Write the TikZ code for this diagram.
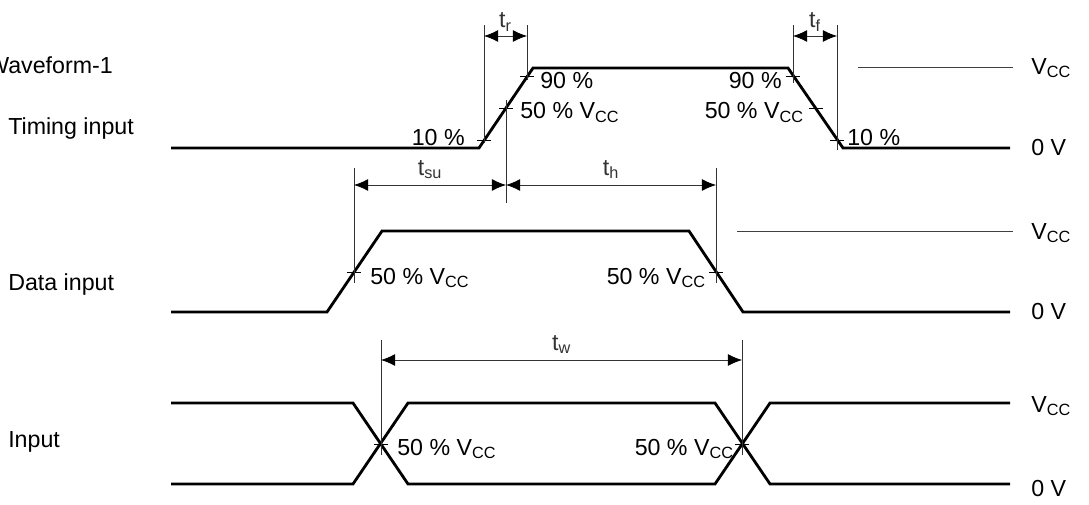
\documentclass[tikz,border=0pt]{standalone}
\usepackage{fontspec}
\setmainfont{Liberation Sans}
\usetikzlibrary{arrows.meta,positioning}
\newcommand{\vcc}{V\textsubscript{CC}}
\begin{document}
\begin{tikzpicture}[x=0.025cm, y=-0.025cm, font=\fontsize{16.5}{19}\selectfont,
  wave/.style={line width=2pt, line join=miter},
  dimline/.style={line width=0.6pt, black!80},
  dimarrow/.style={line width=0.6pt, black!80, {Latex[length=10pt,width=8.5pt,color=black]}-{Latex[length=10pt,width=8.5pt,color=black]}},
  tickmark/.style={line width=0.7pt},
  reflevel/.style={line width=0.7pt, black!75},
  lbl/.style={inner sep=0pt}]
\useasboundingbox (0,0) rectangle (1089,505);
% waveforms
\draw [wave] (171,148) -- (479,148) -- (533,68) -- (788,68) -- (843,148) -- (1010,148);
\draw [wave] (171,312) -- (327,312) -- (382,231) -- (689,231) -- (743,312) -- (1010,312);
\draw [wave] (171,403) -- (353,403) -- (408,484) -- (715,484) -- (770,403) -- (1010,403);
\draw [wave] (171,484) -- (353,484) -- (408,403) -- (715,403) -- (770,484) -- (1010,484);
\draw [reflevel] (858,67) -- (1013,67);
\draw [reflevel] (737,231) -- (1013,231);
% measuring points
\coordinate (r10) at (484,140);
\coordinate (r50) at (506,108);
\coordinate (r90) at (527,76);
\coordinate (f90) at (793,76);
\coordinate (f50) at (816,108);
\coordinate (f10) at (837,140);
\coordinate (d50r) at (354,272);
\coordinate (d50f) at (716,272);
\coordinate (xl) at (381,444);
\coordinate (xr) at (742,444);
\foreach \p in {r10,r50,r90,f90,f50,f10,d50r,d50f,xl,xr}
  \draw [tickmark] (\p) +(-7,0) -- +(7,0);
% dimension lines
\draw [dimline] (r10) ++(0,3) -- (r10 |- 0,25);
\draw [dimline] (r90) ++(0,4) -- (r90 |- 0,25);
\draw [dimline] (f90) ++(0,7) -- (f90 |- 0,25);
\draw [dimline] (f10) ++(0,10) -- (f10 |- 0,25);
\draw [dimline] (d50r) ++(0,11) -- (d50r |- 0,168);
\draw [dimline] (r50) ++(0,-8) -- (r50 |- 0,203);
\draw [dimline] (d50f) ++(0,11) -- (d50f |- 0,168);
\draw [dimline] (xl) ++(0,11) -- (xl |- 0,340);
\draw [dimline] (xr) ++(0,11) -- (xr |- 0,340);
\draw [dimarrow] (r10 |- 0,36) -- (r90 |- 0,36) node (tr)[midway, above=3pt, lbl]{t\textsubscript{r}};
\draw [dimarrow] (f90 |- 0,36) -- (f10 |- 0,36) node (tf)[midway, above=3pt, lbl]{t\textsubscript{f}};
\draw [dimarrow] (d50r |- 0,185) -- (r50 |- 0,185) node (tsu)[midway, above=4pt, lbl]{t\textsubscript{su}};
\draw [dimarrow] (r50 |- 0,185) -- (d50f |- 0,185) node (th)[midway, above=4pt, lbl]{t\textsubscript{h}};
\draw [dimarrow] (xl |- 0,360) -- (xr |- 0,360) node (tw)[midway, above=4pt, lbl]{t\textsubscript{w}};
% signal names
\node (wname)[lbl, anchor=base west] at (-13,74) {Waveform-1};
\node (tname)[lbl, anchor=base west] at (8,135) {Timing input};
\node (dname)[lbl, anchor=base west] at (8,290) {Data input};
\node (iname)[lbl, anchor=base west] at (8,447) {Input};
% levels
\node (tvcc)[lbl, anchor=west] at (1031,68) {\vcc};
\node (tgnd)[lbl, anchor=west] at (1031,148) {0 V};
\node (dvcc)[lbl, anchor=west] at (1031,233) {\vcc};
\node (dgnd)[lbl, anchor=west] at (1031,312) {0 V};
\node (ivcc)[lbl, anchor=west] at (1031,406) {\vcc};
\node (ignd)[lbl, anchor=west] at (1031,489) {0 V};
% percent labels
\node (tr10)[lbl, anchor=base east] at (465,146) {10 \%};
\node (tr90)[lbl, anchor=base west] at (540,89) {90 \%};
\node (tr50)[lbl, anchor=base west] at (520,119) {50 \% \vcc};
\node (tf90)[lbl, anchor=base east] at (782,89) {90 \%};
\node (tf50)[lbl, anchor=base east] at (804,119) {50 \% \vcc};
\node (tf10)[lbl, anchor=base west] at (847,146) {10 \%};
\node (dr50)[lbl, anchor=base west] at (370,284) {50 \% \vcc};
\node (df50)[lbl, anchor=base east] at (706,284) {50 \% \vcc};
\node (il50)[lbl, anchor=base west] at (397,455) {50 \% \vcc};
\node (ir50)[lbl, anchor=base east] at (734,455) {50 \% \vcc};
\end{tikzpicture}
\end{document}
